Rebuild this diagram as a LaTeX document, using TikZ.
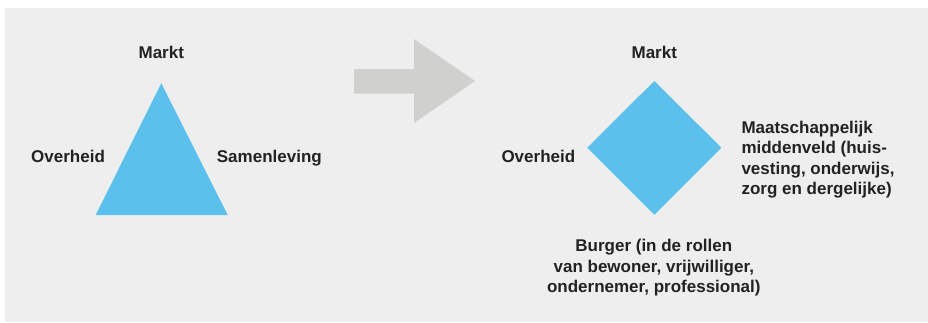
\documentclass[tikz,border=0pt]{standalone}
\usepackage{fontspec}
\setmainfont{Liberation Sans}
\definecolor{bgc}{HTML}{EEEEEE}
\definecolor{arrc}{HTML}{D0D0CE}
\definecolor{bluec}{HTML}{5BC0EB}
\definecolor{txtc}{HTML}{222222}
\begin{document}
\begin{tikzpicture}[x=1pt,y=-1pt,
  lbl/.style={font=\bfseries\fontsize{17}{20.2}\selectfont, text=txtc, inner sep=0pt}]
\useasboundingbox (0,0) rectangle (928,322);
\fill[bgc] (5,8) rectangle (928,322);
% left triangle
\coordinate (ta) at (161.3,83.3);
\coordinate (tr) at (227.7,215);
\coordinate (tl) at (95.7,215);
\fill[bluec] (ta) -- (tr) -- (tl) -- cycle;
% arrow
\fill[arrc] (354,69) -- (414,69) -- (414,39) -- (475,81) -- (414,123) -- (414,93.5) -- (354,93.5) -- cycle;
% diamond
\coordinate (dt) at (654.3,81);
\coordinate (dr) at (721.3,147.7);
\coordinate (db) at (654.3,214.7);
\coordinate (dl) at (587.3,147.7);
\fill[bluec] (dt) -- (dr) -- (db) -- (dl) -- cycle;
% labels left
\node[lbl, anchor=base] (m1) at (161.3,58.3) {Markt};
\node[lbl, anchor=base west] (o1) at (31,162.3) {Overheid};
\node[lbl, anchor=base west] (s1) at (216.7,162.3) {Samenleving};
% labels right
\node[lbl, anchor=base] (m2) at (654.3,58.3) {Markt};
\node[lbl, anchor=base west] (o2) at (501.3,162.3) {Overheid};
\node[lbl, anchor=base west, align=left] (mm) at (741.3,194.3) {Maatschappelijk\\middenveld (huis-\\vesting, onderwijs,\\zorg en dergelijke)};
\node[lbl, anchor=base, align=center] (bu) at (653.8,292.3) {Burger (in de rollen\\van bewoner, vrijwilliger,\\ondernemer, professional)};
\end{tikzpicture}
\end{document}
